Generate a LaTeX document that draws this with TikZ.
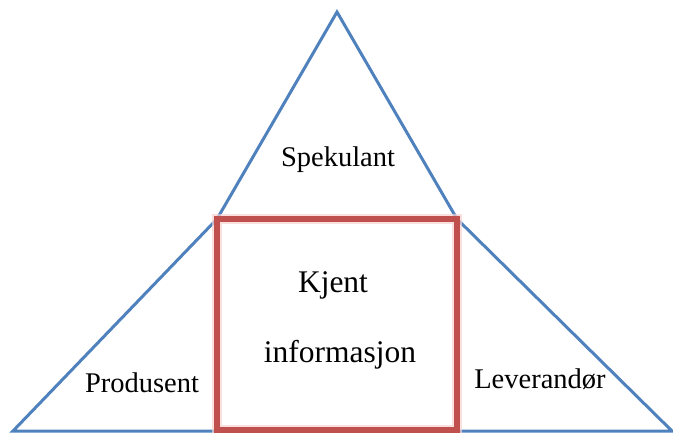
\documentclass[tikz,border=0pt]{standalone}
\usepackage{fontspec}
\setmainfont{Liberation Serif}
\definecolor{triblue}{HTML}{4F81BD}
\definecolor{boxred}{HTML}{C0504D}
\definecolor{glowred}{HTML}{F7D3D2}
\tikzset{
  side/.style={triblue, line width=3pt, line join=miter},
  infobox/.style={boxred, line width=6pt},
  infoglow/.style={glowred, line width=9.5pt, opacity=0.7},
  outerlabel/.style={font=\fontsize{28.5}{32}\selectfont},
  innerlabel/.style={font=\fontsize{31.5}{36}\selectfont}
}
\begin{document}
\begin{tikzpicture}[x=1pt,y=-1pt]
        \useasboundingbox (0,0) rectangle (673,433);

        % Corners
        \coordinate (apex) at (337,12);
        \coordinate (boxtl) at (217,219);
        \coordinate (boxtr) at (457,219);
        \coordinate (boxbl) at (217,430);
        \coordinate (boxbr) at (457,430);
        \coordinate (baseleft) at (13,431);
        \coordinate (baseright) at (672,431);

        % Outer triangle
        \draw[side] (baseleft) -- (boxtl) -- (apex) -- (boxtr) -- (baseright) -- cycle;

        % Box with known information
        \draw[infoglow] (boxtl) rectangle (boxbr);
        \draw[infobox] (boxtl) rectangle (boxbr);

        % Labels
        \node[outerlabel] (spekulant) at (338,160) {Spekulant};
        \node[innerlabel] (kjent) at (333,285) {Kjent};
        \node[innerlabel] (informasjon) at (340,355) {informasjon};
        \node[outerlabel] (produsent) at (142,383) {Produsent};
        \node[outerlabel] (leverandor) at (540,379) {Leverandør};
    \end{tikzpicture}
\end{document}
